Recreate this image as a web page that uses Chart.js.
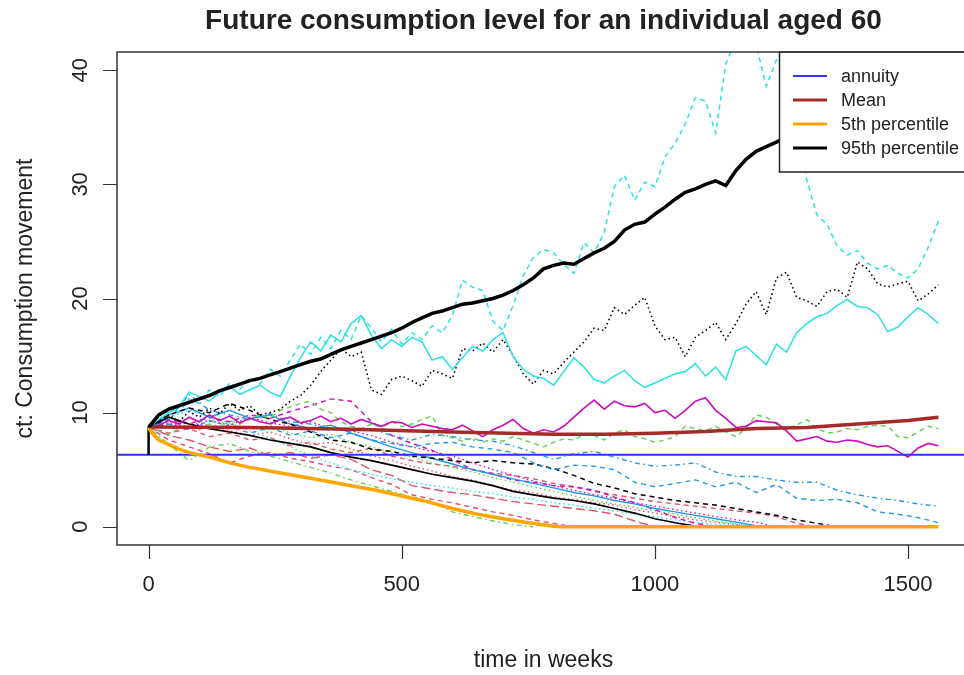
<!DOCTYPE html>
<html>
<head>
<meta charset="utf-8">
<script src="https://cdn.jsdelivr.net/npm/chart.js@4/dist/chart.umd.min.js"></script>
<style>
  html, body { margin: 0; padding: 0; background: #fff; overflow: hidden; }
  canvas { display: block; }
</style>
</head>
<body>
<canvas id="c" width="980" height="675"></canvas>
<script>
/* ── data ── */
const xTicks = [0, 500, 1000, 1500];
const yTicks = [0, 10, 20, 30, 40];
const xRange = [-62.4, 1622.4];
const yRange = [-1.6, 41.6];
const annuityLevel = 6.3;
const legendLabels = ['annuity', 'Mean', '5th percentile', '95th percentile'];

const fineWeeks = [0,20,40,60,80,100,120,140,160,180,200,220,240,260,280,300,320,340,360,380,
  400,420,440,460,480,500,520,540,560,580,600,620,640,660,680,700,720,740,760,780,
  800,820,840,860,880,900,920,940,960,980,1000,1020,1040,1060,1080,1100,1120,1140,1160,1180,
  1200,1220,1240,1260,1280,1300,1320,1340,1360,1380,1400,1420,1440,1460,1480,1500,1520,1540,1560];
const coarseWeeks = [0,40,80,120,160,200,240,280,320,360,400,440,480,520,560,600,640,680,720,760,
  800,840,880,920,960,1000,1040,1080,1120,1160,1200,1240,1280,1320,1360,1400,1440,1480,1520,1560];

const meanWeeks = [0,200,400,600,800,900,1000,1100,1200,1300,1400,1500,1560];
const meanValues = [8.75,8.7,8.55,8.3,8.1,8.1,8.2,8.35,8.6,8.7,9.0,9.3,9.6];

const p5Weeks = [0,5,20,40,60,80,100,130,160,200,250,300,350,400,450,500,550,600,650,700,750,800,815,1560];
const p5Values = [8.7,8.3,7.6,7.2,6.8,6.5,6.3,6.0,5.6,5.2,4.8,4.4,4.0,3.6,3.2,2.7,2.2,1.6,1.1,0.7,0.35,0.05,0,0];

const p95Values = [8.7,9.8,10.3,10.6,10.9,11.2,11.5,11.9,12.2,12.5,
  12.8,13.0,13.3,13.6,13.9,14.2,14.5,14.7,15.1,15.5,
  15.8,16.1,16.4,16.7,17.0,17.4,17.9,18.3,18.7,18.9,
  19.2,19.5,19.6,19.8,20.0,20.3,20.7,21.2,21.8,22.6,
  22.9,23.1,23.0,23.5,24.0,24.4,25.0,26.0,26.5,26.7,
  27.4,28.0,28.7,29.3,29.6,30.0,30.3,29.9,31.2,32.2,
  32.9,33.3,33.7,34.2,34.8,35.3,35.9,36.4,36.8,37.3,
  37.9,38.4,38.8,39.3,39.8,40.2,40.6,41.0,41.3];

// simulated paths, weekly grid of 20
const cyanHigh = [8.7,9.6,10.4,10.0,11.2,10.8,12.0,11.4,12.6,12.0,
  13.1,12.5,13.8,13.2,14.6,16.0,15.1,16.6,15.6,17.2,
  16.4,18.5,17.4,16.2,17.3,16.0,17.0,16.4,17.6,17.0,
  18.5,21.6,21.0,20.7,18.0,17.2,19.4,22.0,23.6,24.3,
  24.0,23.0,22.2,24.9,24.0,25.8,29.8,30.8,28.6,30.2,
  29.8,32.4,33.6,35.3,37.6,37.3,34.5,40.5,42.8,43.5,
  42.2,38.6,40.9,39.5,35.5,30.4,27.3,26.5,24.6,23.8,
  24.2,23.1,22.6,22.9,22.2,21.8,22.6,24.5,26.8];
const cyanLow = [8.7,9.4,10.0,10.5,11.8,11.4,11.0,11.8,12.3,11.6,
  12.0,12.4,11.8,11.4,13.2,14.8,16.2,15.4,16.8,16.2,
  17.8,18.5,16.8,15.6,16.4,15.8,16.6,16.2,14.6,14.9,
  13.8,14.8,15.8,15.4,16.4,17.0,14.9,13.8,13.2,13.0,
  12.4,13.6,14.8,14.0,12.9,12.6,13.2,13.7,12.8,12.2,
  12.6,13.0,13.4,13.6,14.3,13.2,14.0,12.9,15.4,15.8,
  15.0,14.2,16.0,15.3,17.0,17.8,18.4,18.7,19.4,19.9,
  19.3,19.2,18.6,17.1,17.5,18.4,19.2,18.6,17.8];
const blackHigh = [8.7,9.3,9.8,9.2,10.1,9.6,10.4,9.9,10.8,10.2,
  10.6,9.8,10.0,10.3,11.0,11.5,12.4,13.6,14.6,15.6,
  14.9,15.3,12.0,11.6,12.9,13.2,12.8,12.3,13.7,13.4,
  13.0,15.6,15.4,16.1,15.3,16.4,15.0,13.4,12.5,13.7,
  13.4,14.4,15.3,16.2,17.4,17.2,19.2,18.6,19.4,20.1,
  17.6,16.4,16.6,14.9,16.6,17.2,17.9,16.4,17.8,19.5,
  20.6,18.6,21.8,22.3,20.1,19.8,19.3,20.6,20.8,20.1,
  23.2,22.6,21.3,21.0,21.3,21.5,19.8,20.4,21.2];
const magentaMid = [8.7,8.9,9.3,9.0,9.6,9.2,9.8,9.3,9.7,9.1,
  9.5,9.2,9.0,9.4,9.6,9.1,9.3,9.7,9.2,9.5,
  9.0,9.4,9.1,8.8,9.2,9.1,8.7,9.0,8.8,8.6,
  8.5,8.9,8.4,7.9,8.5,8.9,9.4,8.6,8.2,8.5,
  8.3,8.8,9.6,10.4,11.1,10.3,11.0,10.6,10.5,10.8,
  10.0,10.2,9.5,10.2,11.0,11.3,10.2,9.5,8.7,8.8,
  9.3,9.2,9.1,8.4,7.5,7.7,7.9,7.5,7.4,7.6,
  7.5,7.2,7.0,7.1,6.6,6.1,6.9,7.3,7.1];
const greenMid = [8.7,8.4,8.1,8.6,8.9,8.5,9.0,8.7,9.3,9.0,
  9.4,9.8,9.5,10.2,10.5,10.8,11.0,10.3,10.0,9.2,
  8.8,8.6,9.0,8.7,9.2,8.8,9.0,9.4,9.7,8.0,
  7.8,7.5,7.8,7.4,7.7,7.5,7.9,7.6,7.3,7.0,
  7.4,7.7,7.6,8.1,8.0,7.6,8.2,8.5,7.9,7.7,
  7.4,7.6,7.9,8.8,8.6,8.4,8.8,8.3,7.9,8.6,
  9.8,9.6,9.0,8.6,8.9,9.4,8.6,8.2,8.3,8.6,
  8.5,8.8,8.9,8.8,7.9,7.8,8.3,8.8,8.6];

// simulated paths, weekly grid of 40 (stop once they reach zero)
const blueUpper = [8.7,9.4,11.6,10.2,9.8,9.4,9.9,9.2,9.0,8.6,
  8.3,8.6,8.0,7.6,8.1,7.9,7.6,7.5,7.1,6.5,
  5.9,6.4,6.6,6.1,5.6,5.3,5.4,5.6,4.8,4.4,
  4.4,4.1,3.9,3.9,3.2,2.8,2.5,2.3,2.0,1.8];
const blueLower = [8.7,9.0,8.5,9.3,8.8,8.2,8.7,8.0,8.4,7.8,
  8.2,7.6,7.3,7.0,7.3,7.4,7.0,6.8,6.5,5.6,
  5.0,5.4,5.3,5.0,3.9,3.5,3.8,4.1,3.5,3.9,
  3.0,3.7,2.5,2.3,2.4,2.1,1.3,1.1,0.8,0.35];
const blueFall = [8.7,9.8,10.4,9.6,10.2,9.5,9.8,9.0,8.6,8.9,
  8.2,7.6,7.0,6.5,6.0,5.5,5.0,4.6,4.2,3.8,
  3.4,3.0,2.7,2.3,2.0,1.6,1.3,1.0,0.7,0.4,0.1,0];
const blackSolid = [8.7,9.6,9.0,8.6,8.3,8.0,7.6,7.3,7.0,6.5,
  6.1,5.8,5.4,5.0,4.6,4.3,4.0,3.6,3.1,2.8,
  2.5,2.3,2.0,1.6,1.2,0.7,0.35,0.05,0];
const blackDashed = [8.7,9.8,10.4,10.0,10.8,10.2,9.4,9.0,8.3,7.6,
  7.4,6.8,6.6,6.2,6.0,5.8,5.6,5.8,5.6,5.5,
  5.1,4.5,3.8,3.4,2.9,2.6,2.3,2.1,1.9,1.6,
  1.3,1.0,0.6,0.3,0];
const redUpper = [8.7,8.2,8.6,7.9,8.2,7.6,7.8,7.1,7.4,6.8,
  6.5,6.9,6.2,5.8,5.5,5.3,5.0,4.7,4.5,4.2,
  3.8,3.5,3.1,2.8,2.5,2.2,2.0,1.8,1.6,1.4,
  1.2,0.9,0.3,0];
const redMid = [8.7,8.0,7.6,7.0,6.6,6.9,6.2,6.5,6.0,6.3,
  5.9,5.0,4.5,3.6,3.3,3.0,2.8,2.5,2.2,2.0,
  1.8,1.6,1.4,1.1,0.5,0];
const redLow = [8.7,7.6,7.0,6.4,5.6,6.2,6.5,6.0,5.7,5.3,
  5.0,4.3,3.7,2.8,2.4,2.1,1.7,1.3,1.0,0.6,0.3,0];
const redDotted = [8.7,9.1,8.6,9.0,8.4,8.0,8.3,7.7,7.2,7.4,
  6.8,6.2,5.8,5.3,4.9,4.4,4.1,3.6,3.2,3.0,
  2.6,2.4,2.1,1.9,1.5,1.2,0.9,0.6,0.4,0.2,0];
const magentaPeak = [8.7,9.4,9.0,9.6,9.2,9.8,9.5,10.1,10.6,11.2,
  11.0,9.2,8.0,7.3,6.7,5.9,5.0,4.6,4.1,3.9,
  3.6,3.5,3.2,2.6,2.1,1.5,0.8,0.3,0];
const magentaDotted = [8.7,9.0,8.7,9.3,8.9,9.6,9.1,8.8,9.2,8.6,
  8.4,8.0,7.4,7.0,6.6,6.2,5.6,5.0,4.5,4.0,
  3.6,3.2,2.8,2.5,2.1,1.8,1.5,1.2,0.9,0.6,0.4,0];
const greenLow = [8.7,7.2,5.8,7.0,7.3,6.6,6.2,5.7,5.2,4.7,
  4.1,3.6,3.1,2.6,2.2,1.3,0.9,0.5,0.2,0];
const greenFall = [8.7,9.2,8.8,9.5,9.0,8.6,8.9,8.2,7.8,8.1,
  7.4,7.0,6.5,6.1,5.6,5.2,4.8,4.3,3.9,3.5,
  3.1,2.7,2.3,2.0,1.7,1.4,1.1,0.8,0.5,0.25,0];
const cyanFall = [8.7,9.6,10.2,9.7,9.1,8.4,7.8,7.0,6.2,5.6,
  5.0,4.6,4.2,3.9,3.6,3.4,3.1,2.9,2.6,2.4,
  2.1,1.9,1.6,1.4,1.1,0.9,0.6,0.4,0.2,0.05,0];

/* ── styles ── */
const COL = { black: '#000000', red: '#DF536B', green: '#61D04F', blue: '#2297E6', cyan: '#28E2E5', magenta: '#CD0BBC' };
const DASH = { solid: [], dashed: [5, 4], dotted: [1.5, 3], dotdash: [1.5, 3.5, 5, 3.5], longdash: [9, 4] };
const FONT = '"Liberation Sans", Arial, Helvetica, sans-serif';
const INK = '#222';
const legendColors = ['#3232ff', '#A52A2A', '#FFA500', '#000000'];
const legendWidths = [2, 3.5, 3.5, 3.5];

function pts(weeks, values) { return values.map((v, i) => ({ x: weeks[i], y: v })); }
function line(data, color, dash, width) {
  return { data, borderColor: color, borderWidth: width || 1.4, borderDash: dash || [],
    pointRadius: 0, fill: false, tension: 0, borderCapStyle: 'butt' };
}

// bottom-most first
const layers = [
  line(pts(coarseWeeks, redLow), COL.red, DASH.dashed),
  line(pts(coarseWeeks, greenLow), COL.green, DASH.dotdash),
  line(pts(coarseWeeks, redMid), COL.red, DASH.longdash),
  line(pts(coarseWeeks, redDotted), COL.red, DASH.dotted),
  line(pts(coarseWeeks, redUpper), COL.red, DASH.dashed),
  line(pts(coarseWeeks, greenFall), COL.green, DASH.dotted),
  line(pts(coarseWeeks, cyanFall), COL.cyan, DASH.dotted),
  line(pts(coarseWeeks, magentaDotted), COL.magenta, DASH.dotted),
  line(pts(coarseWeeks, magentaPeak), COL.magenta, DASH.dashed),
  line(pts(coarseWeeks, blueFall), COL.blue, DASH.solid),
  line(pts(coarseWeeks, blackSolid), COL.black, DASH.solid, 1.7),
  line(pts(coarseWeeks, blackDashed), COL.black, DASH.dashed, 1.5),
  line(pts(coarseWeeks, blueLower), COL.blue, DASH.dashed),
  line(pts(coarseWeeks, blueUpper), COL.blue, DASH.dotdash),
  line(pts(fineWeeks, greenMid), COL.green, DASH.dashed),
  line(pts(fineWeeks, magentaMid), COL.magenta, DASH.solid, 1.6),
  line(pts(fineWeeks, blackHigh), COL.black, DASH.dotted, 1.6),
  line(pts(fineWeeks, cyanLow), COL.cyan, DASH.solid, 1.5),
  line(pts(fineWeeks, cyanHigh), COL.cyan, DASH.dashed, 1.5),
  line([{ x: xRange[0], y: annuityLevel }, { x: xRange[1], y: annuityLevel }], legendColors[0], [], legendWidths[0]),
  line([{ x: 0, y: annuityLevel }, { x: 0, y: meanValues[0] }], COL.black, [], 2.5),
  line(pts(meanWeeks, meanValues), legendColors[1], [], legendWidths[1]),
  line(pts(p5Weeks, p5Values), legendColors[2], [], legendWidths[2]),
  line(pts(fineWeeks, p95Values), legendColors[3], [], legendWidths[3])
];

/* ── frame, axes, titles and legend, R style ── */
const decor = {
  id: 'decor',
  beforeDraw(chart) {
    const ctx = chart.ctx;
    ctx.save(); ctx.fillStyle = '#fff'; ctx.fillRect(0, 0, chart.width, chart.height); ctx.restore();
  },
  afterDatasetsDraw(chart) {
    const { ctx, chartArea: a, scales: { x, y } } = chart;
    const cx = (a.left + a.right) / 2, cy = (a.top + a.bottom) / 2;
    ctx.save();

    // legend box (top right, inset 0)
    const lx = a.right - 191, ly = a.top, lh = 120;
    ctx.fillStyle = '#fff';
    ctx.fillRect(lx, ly, a.right - lx, lh);
    ctx.strokeStyle = '#222'; ctx.lineWidth = 1.5;
    ctx.strokeRect(lx + 0.5, ly, a.right - lx, lh);
    ctx.font = '18px ' + FONT; ctx.textAlign = 'left'; ctx.textBaseline = 'middle';
    legendLabels.forEach((lbl, i) => {
      const ry = ly + 24 + i * 24;
      ctx.strokeStyle = legendColors[i]; ctx.lineWidth = Math.min(legendWidths[i], 3);
      ctx.beginPath(); ctx.moveTo(lx + 14, ry); ctx.lineTo(lx + 48, ry); ctx.stroke();
      ctx.fillStyle = INK; ctx.fillText(lbl, lx + 62, ry + 1);
    });

    // plot frame
    ctx.strokeStyle = '#333'; ctx.lineWidth = 1.5;
    ctx.strokeRect(a.left, a.top, a.right - a.left, a.bottom - a.top);

    // tick marks
    ctx.beginPath();
    xTicks.forEach(v => { const px = Math.round(x.getPixelForValue(v)) + 0.5; ctx.moveTo(px, a.bottom); ctx.lineTo(px, a.bottom + 14); });
    yTicks.forEach(v => { const py = Math.round(y.getPixelForValue(v)) + 0.5; ctx.moveTo(a.left, py); ctx.lineTo(a.left - 14, py); });
    ctx.lineWidth = 1.2; ctx.stroke();

    // tick labels
    ctx.fillStyle = INK; ctx.font = '22px ' + FONT;
    ctx.textAlign = 'center'; ctx.textBaseline = 'alphabetic';
    xTicks.forEach(v => ctx.fillText(String(v), x.getPixelForValue(v), a.bottom + 46));
    yTicks.forEach(v => {
      ctx.save(); ctx.translate(a.left - 30, y.getPixelForValue(v)); ctx.rotate(-Math.PI / 2);
      ctx.fillText(String(v), 0, 0); ctx.restore();
    });

    // axis titles
    ctx.font = '23px ' + FONT;
    ctx.fillText('time in weeks', cx, a.bottom + 122);
    ctx.save(); ctx.translate(a.left - 85, cy); ctx.rotate(-Math.PI / 2);
    ctx.fillText('ct: Consumption movement', 0, 0); ctx.restore();

    // main title
    ctx.font = 'bold 28px ' + FONT;
    ctx.fillText('Future consumption level for an individual aged 60', cx, a.top - 23);
    ctx.restore();
  }
};

new Chart(document.getElementById('c'), {
  type: 'line',
  data: { datasets: layers.slice().reverse() },
  options: {
    responsive: false, animation: false, devicePixelRatio: 1,
    layout: { padding: { left: 117, top: 52, right: 10, bottom: 130 } },
    scales: {
      x: { type: 'linear', min: xRange[0], max: xRange[1], display: false },
      y: { type: 'linear', min: yRange[0], max: yRange[1], display: false }
    },
    plugins: { legend: { display: false }, tooltip: { enabled: false } }
  },
  plugins: [decor]
});
</script>
</body>
</html>
